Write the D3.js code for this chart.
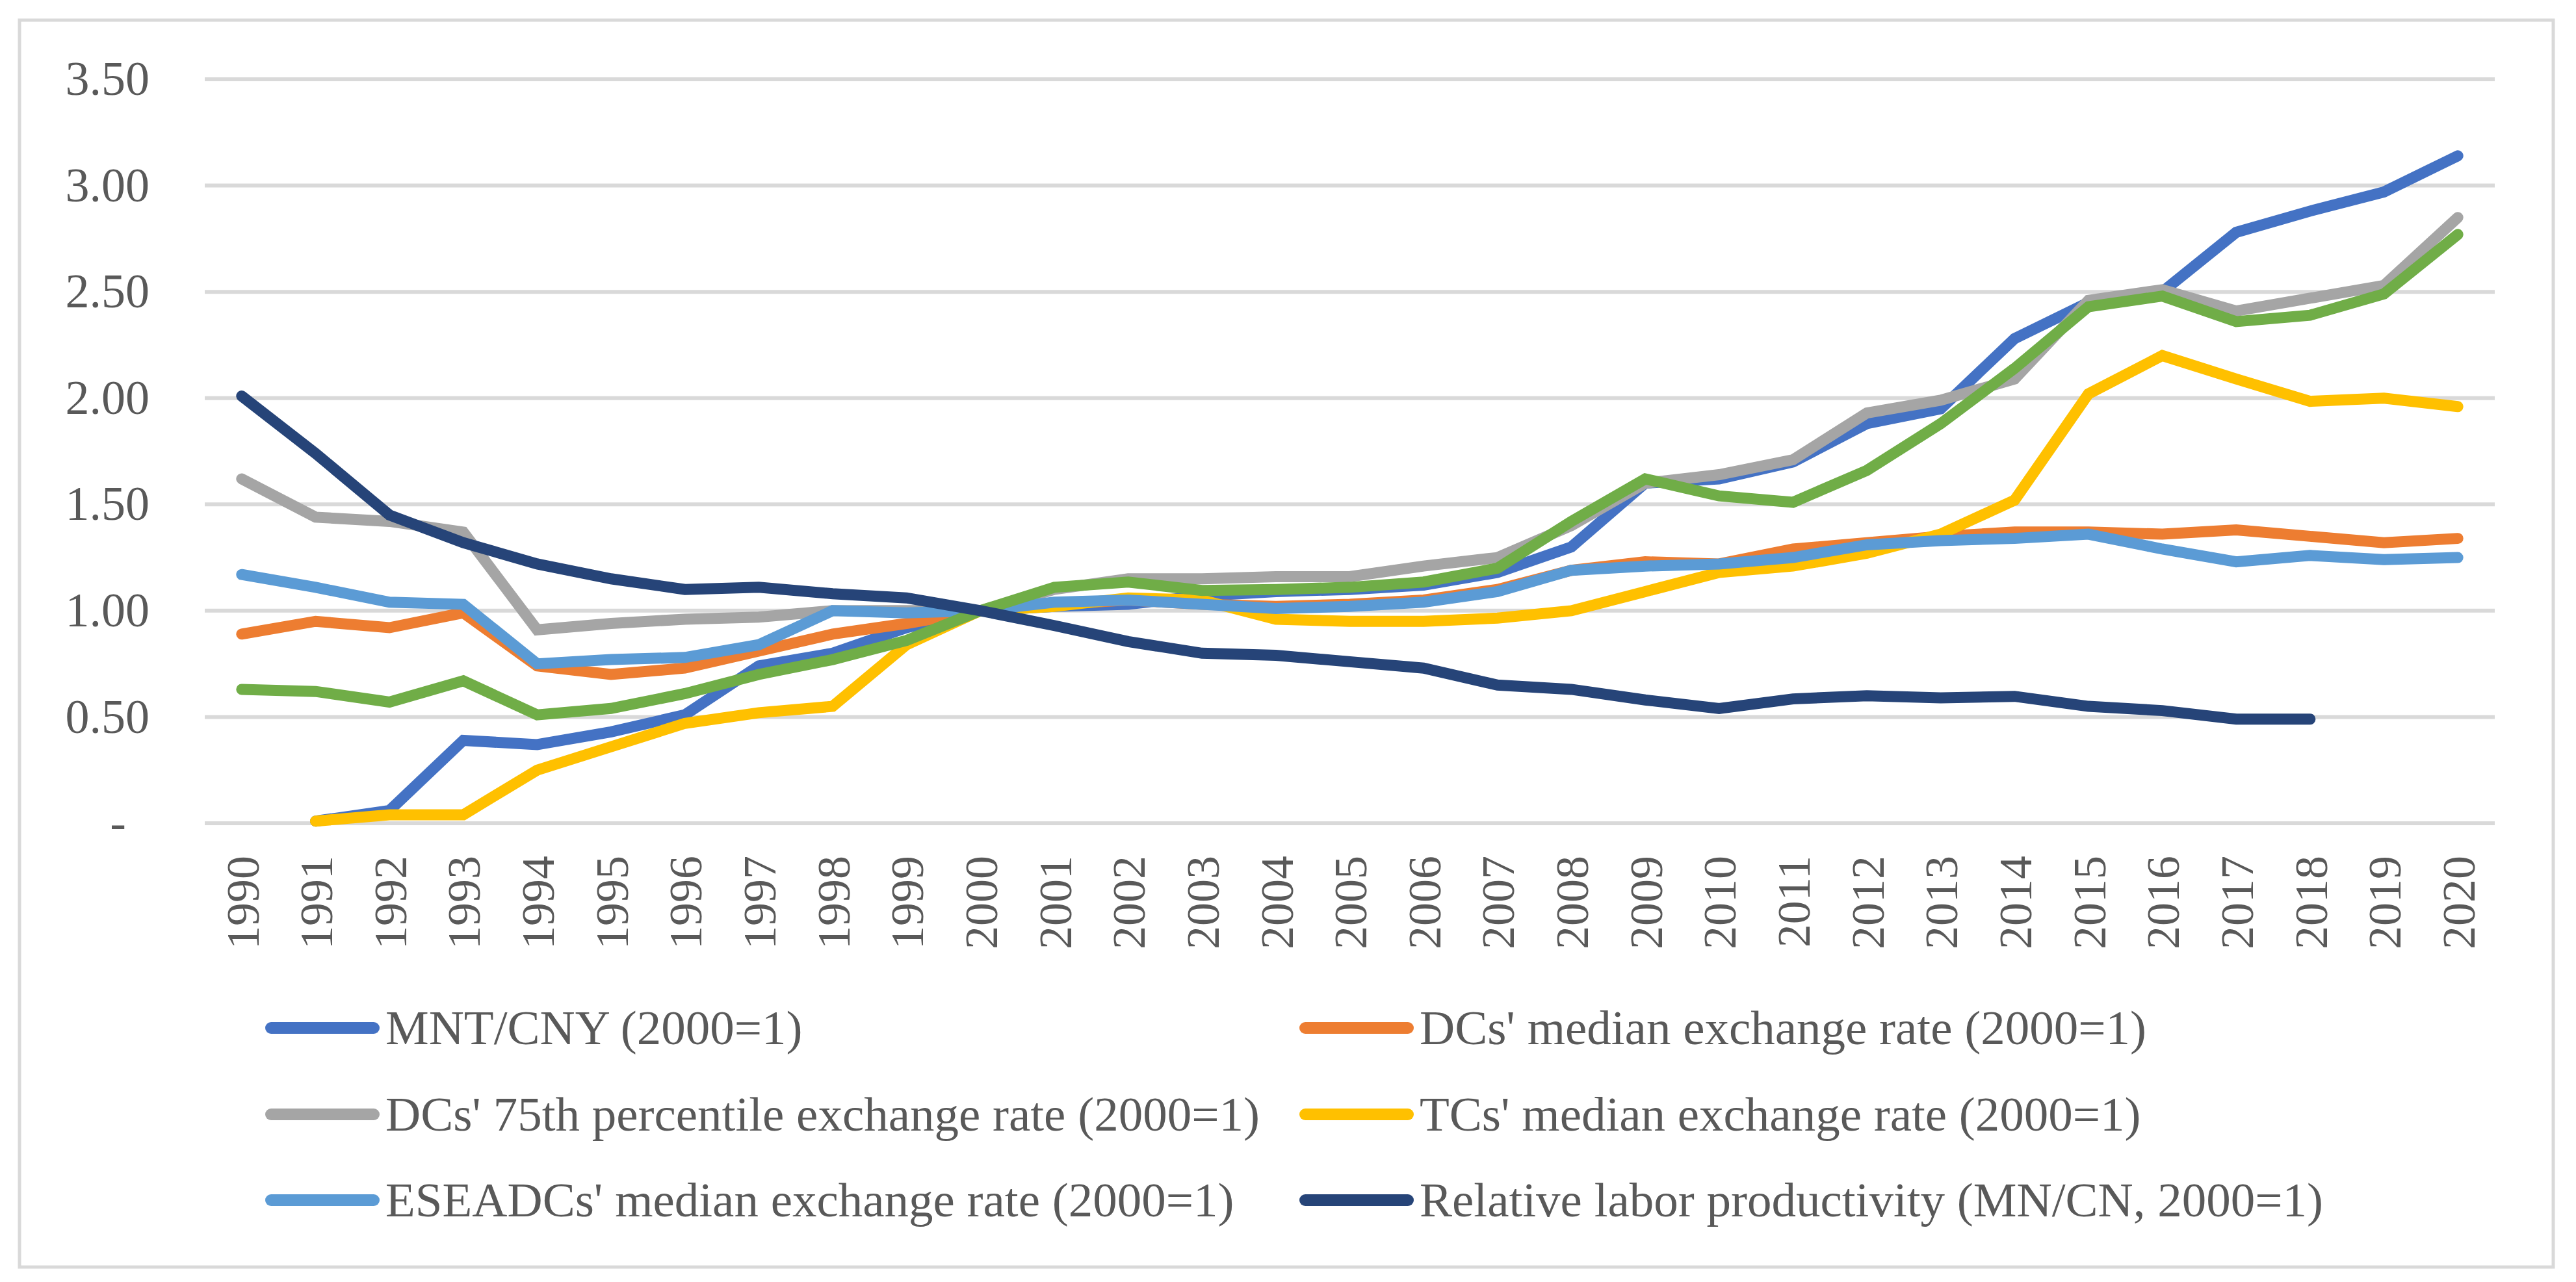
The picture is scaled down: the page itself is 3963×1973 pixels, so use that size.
<!DOCTYPE html>
<html>
<head>
<meta charset="utf-8">
<script src="https://cdn.jsdelivr.net/npm/d3@7/dist/d3.min.js"></script>
<style>
  html, body { margin: 0; padding: 0; background: #ffffff; }
  svg { display: block; }
  text { font-family: "Liberation Serif", "Times New Roman", serif; fill: #595959; }
</style>
</head>
<body>
<svg id="chart" width="3963" height="1973"></svg>
<script>
const years = d3.range(1990, 2021).map(String);

const mntCny      = [null, 0.01, 0.06, 0.39, 0.37, 0.43, 0.51, 0.74, 0.80, 0.92, 1.00, 1.02, 1.03, 1.07, 1.09, 1.10, 1.12, 1.18, 1.30, 1.60, 1.62, 1.70, 1.88, 1.95, 2.28, 2.45, 2.50, 2.78, 2.88, 2.97, 3.14];
const dcsMedian   = [0.89, 0.95, 0.92, 0.99, 0.74, 0.70, 0.73, 0.81, 0.89, 0.94, 1.00, 1.03, 1.05, 1.03, 1.02, 1.03, 1.05, 1.10, 1.19, 1.23, 1.22, 1.29, 1.32, 1.35, 1.37, 1.37, 1.36, 1.38, 1.35, 1.32, 1.34];
const dcs75th     = [1.62, 1.44, 1.42, 1.37, 0.91, 0.94, 0.96, 0.97, 1.00, 1.00, 1.00, 1.10, 1.15, 1.15, 1.16, 1.16, 1.21, 1.25, 1.40, 1.60, 1.64, 1.71, 1.93, 1.99, 2.09, 2.46, 2.51, 2.41, 2.47, 2.53, 2.85];
const tcsMedian   = [null, 0.01, 0.04, 0.04, 0.25, 0.36, 0.47, 0.52, 0.55, 0.84, 1.00, 1.02, 1.06, 1.05, 0.96, 0.95, 0.95, 0.965, 1.00, 1.09, 1.18, 1.21, 1.27, 1.36, 1.52, 2.02, 2.20, 2.09, 1.985, 2.00, 1.96];
const eseadcs     = [1.17, 1.11, 1.04, 1.03, 0.75, 0.77, 0.78, 0.84, 1.00, 0.99, 1.00, 1.04, 1.05, 1.03, 1.01, 1.02, 1.04, 1.09, 1.19, 1.21, 1.22, 1.25, 1.31, 1.33, 1.34, 1.36, 1.29, 1.23, 1.26, 1.24, 1.25];
const greenSeries = [0.63, 0.62, 0.57, 0.67, 0.51, 0.54, 0.61, 0.70, 0.77, 0.86, 1.00, 1.11, 1.135, 1.095, 1.10, 1.11, 1.135, 1.20, 1.42, 1.62, 1.54, 1.51, 1.66, 1.88, 2.14, 2.43, 2.48, 2.36, 2.39, 2.49, 2.77];
const laborProd   = [2.01, 1.74, 1.45, 1.32, 1.22, 1.15, 1.10, 1.11, 1.08, 1.06, 1.00, 0.93, 0.855, 0.80, 0.79, 0.76, 0.73, 0.65, 0.63, 0.58, 0.54, 0.585, 0.60, 0.59, 0.597, 0.55, 0.53, 0.49, 0.49, null, null];

const yTicks = [0, 0.5, 1.0, 1.5, 2.0, 2.5, 3.0, 3.5];

const seriesNames = [
  "MNT/CNY (2000=1)",
  "DCs' median exchange rate (2000=1)",
  "DCs' 75th percentile exchange rate (2000=1)",
  "TCs' median exchange rate (2000=1)",
  "ESEADCs' median exchange rate (2000=1)",
  "",
  "Relative labor productivity (MN/CN, 2000=1)"
];
const seriesValues = [mntCny, dcsMedian, dcs75th, tcsMedian, eseadcs, greenSeries, laborProd];
const seriesColors = ["#4472C4", "#ED7D31", "#A5A5A5", "#FFC000", "#5B9BD5", "#70AD47", "#264478"];
const inLegend = [true, true, true, true, true, false, true];

const svg = d3.select("#chart");
svg.append("rect").attr("width", 3963).attr("height", 1973).attr("fill", "#ffffff");
// chart border
svg.append("rect")
  .attr("x", 30).attr("y", 31).attr("width", 3898).attr("height", 1919)
  .attr("fill", "none").attr("stroke", "#d9d9d9").attr("stroke-width", 5);

const x = d3.scalePoint().domain(years).range([315, 3838]).padding(0.5);
const y = d3.scaleLinear().domain([0, 3.5]).range([1267, 122]);

// gridlines
svg.append("g").selectAll("line").data(yTicks).join("line")
  .attr("x1", 315).attr("x2", 3838)
  .attr("y1", d => y(d)).attr("y2", d => y(d))
  .attr("stroke", "#d9d9d9").attr("stroke-width", 6);

// y axis labels
const yAxis = d3.axisLeft(y).tickValues(yTicks).tickSize(0).tickPadding(0)
  .tickFormat(d => d === 0 ? "-" : d3.format(".2f")(d));
const gy = svg.append("g").attr("transform", "translate(230,0)").call(yAxis);
gy.select(".domain").remove();
gy.selectAll("text")
  .attr("font-size", 74).attr("fill", "#595959")
  .style("font-family", "'Liberation Serif', 'Times New Roman', serif")
  .attr("dy", "0.32em")
  .attr("dx", d => d === 0 ? -36 : 0);

// x axis labels
const xAxis = d3.axisBottom(x).tickSize(0).tickPadding(0);
const gx = svg.append("g").attr("transform", "translate(0,1267)").call(xAxis);
gx.select(".domain").remove();
gx.selectAll("text")
  .attr("font-size", 72).attr("fill", "#595959")
  .style("font-family", "'Liberation Serif', 'Times New Roman', serif")
  .attr("text-anchor", "end")
  .attr("transform", "translate(0,50) rotate(-90)")
  .attr("x", 0).attr("y", 0).attr("dy", "0.35em");

// lines
const line = d3.line()
  .defined(d => d.v != null)
  .x(d => x(d.year))
  .y(d => y(d.v));

seriesValues.forEach((vals, i) => {
  const data = years.map((yr, j) => ({ year: yr, v: vals[j] }));
  svg.append("path")
    .datum(data)
    .attr("d", line)
    .attr("fill", "none")
    .attr("stroke", seriesColors[i])
    .attr("stroke-width", 17)
    .attr("stroke-linecap", "round")
    .attr("stroke-linejoin", "miter")
    .attr("stroke-miterlimit", 4);
});

// legend
const legendItems = seriesNames.map((n, i) => ({ name: n, color: seriesColors[i], show: inLegend[i] }))
  .filter(d => d.show);
const colX = [408, 1999];
const rowY = [1582, 1715, 1847];
const lg = svg.append("g");
legendItems.forEach((d, k) => {
  const cx = colX[k % 2], cy = rowY[Math.floor(k / 2)];
  lg.append("line")
    .attr("x1", cx + 9).attr("x2", cx + 167)
    .attr("y1", cy).attr("y2", cy)
    .attr("stroke", d.color).attr("stroke-width", 18).attr("stroke-linecap", "round");
  lg.append("text")
    .attr("x", cx + 185).attr("y", cy).attr("dy", "0.33em")
    .attr("font-size", 75)
    .text(d.name);
});
</script>
</body>
</html>
